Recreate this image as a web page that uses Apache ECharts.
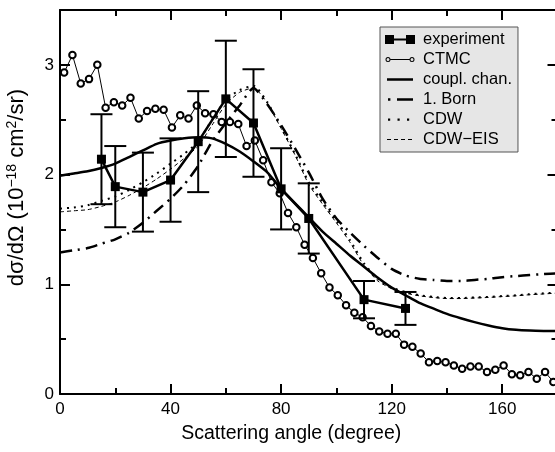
<!DOCTYPE html>
<html><head><meta charset="utf-8">
<script src="https://cdn.jsdelivr.net/npm/echarts@6/dist/echarts.min.js"></script>
<style>html,body{margin:0;padding:0;background:#fff}#c{width:555px;height:452px}</style>
</head><body><div id="c"></div>
<script>
// ---- data ----
const expAngle = [15, 20, 30, 40, 50, 60, 70, 80, 90, 110, 125];
const expValue = [2.14, 1.89, 1.84, 1.95, 2.30, 2.69, 2.47, 1.87, 1.60, 0.86, 0.78];
const expError = [0.41, 0.37, 0.36, 0.38, 0.46, 0.53, 0.49, 0.37, 0.32, 0.17, 0.15];

const ctmcAngle = [1.5, 4.5, 7.5, 10.5, 13.5, 16.5, 19.5, 22.5, 25.5, 28.5,
  31.5, 34.5, 37.5, 40.5, 43.5, 46.5, 49.5, 52.5, 55.5, 58.5,
  61.5, 64.5, 67.5, 70.5, 73.5, 76.5, 79.5, 82.5, 85.5, 88.5,
  91.5, 94.5, 97.5, 100.5, 103.5, 106.5, 109.5, 112.5, 115.5, 118.5,
  121.5, 124.5, 127.5, 130.5, 133.5, 136.5, 139.5, 142.5, 145.5, 148.5,
  151.5, 154.5, 157.5, 160.5, 163.5, 166.5, 169.5, 172.5, 175.5, 178.5];
const ctmcValue = [2.93, 3.09, 2.83, 2.87, 3.00, 2.61, 2.66, 2.63, 2.70, 2.51,
  2.58, 2.60, 2.59, 2.43, 2.54, 2.51, 2.63, 2.56, 2.55, 2.48,
  2.48, 2.46, 2.26, 2.31, 2.13, 1.93, 1.83, 1.65, 1.52, 1.36,
  1.24, 1.10, 0.97, 0.90, 0.81, 0.74, 0.70, 0.62, 0.57, 0.55,
  0.55, 0.45, 0.43, 0.37, 0.29, 0.30, 0.29, 0.26, 0.23, 0.25,
  0.25, 0.20, 0.22, 0.26, 0.18, 0.17, 0.20, 0.14, 0.20, 0.11];

const curveAngle = [0, 5, 10, 15, 20, 25, 30, 35, 40, 45, 50, 55, 60, 65, 70, 75, 80, 85, 90,
  95, 100, 105, 110, 115, 120, 125, 130, 135, 140, 145, 150, 155, 160, 165, 170, 175, 180];
const couplChan = [1.99, 2.01, 2.03, 2.06, 2.10, 2.16, 2.22, 2.28, 2.31, 2.33, 2.34, 2.33, 2.28, 2.21, 2.12, 2.02, 1.87, 1.74, 1.61,
  1.48, 1.37, 1.26, 1.16, 1.06, 0.97, 0.90, 0.83, 0.78, 0.73, 0.69, 0.655, 0.625, 0.60, 0.585, 0.578, 0.575, 0.574];
const born1 = [1.29, 1.31, 1.33, 1.37, 1.41, 1.47, 1.56, 1.67, 1.78, 1.91, 2.08, 2.30, 2.47, 2.63, 2.79, 2.64, 2.45, 2.24, 2.02,
  1.78, 1.60, 1.47, 1.35, 1.24, 1.14, 1.08, 1.05, 1.04, 1.03, 1.03, 1.04, 1.05, 1.065, 1.075, 1.085, 1.093, 1.10];
const cdw = [1.69, 1.70, 1.72, 1.76, 1.80, 1.86, 1.93, 2.01, 2.10, 2.19, 2.30, 2.50, 2.68, 2.77, 2.81, 2.66, 2.43, 2.19, 1.93,
  1.75, 1.58, 1.40, 1.19, 1.05, 0.97, 0.93, 0.90, 0.885, 0.875, 0.875, 0.88, 0.885, 0.893, 0.90, 0.91, 0.918, 0.925];
const cdwEis = [1.66, 1.67, 1.68, 1.71, 1.75, 1.81, 1.88, 1.96, 2.05, 2.15, 2.26, 2.45, 2.64, 2.75, 2.79, 2.65, 2.42, 2.18, 1.91,
  1.73, 1.56, 1.38, 1.17, 1.03, 0.96, 0.92, 0.895, 0.88, 0.87, 0.87, 0.875, 0.88, 0.888, 0.895, 0.905, 0.912, 0.92];

const seriesNames = ['experiment', 'CTMC', 'coupl. chan.', '1. Born', 'CDW', 'CDW\u2212EIS'];
const xTitle = 'Scattering angle (degree)';

// ---- chart ----
const FONT = '"Liberation Sans", Arial, Helvetica, sans-serif';
const zip = (xs, ys) => xs.map((x, i) => [x, ys[i]]);
const black = '#000';

function xAx(pos, interval, len, major) {
  return {
    type: 'value', min: 0, max: 180, interval: interval, position: pos,
    axisLine: { show: major, onZero: false, lineStyle: { color: black, width: 2 } },
    axisTick: { show: true, inside: true, length: len, lineStyle: { color: black, width: 2 } },
    axisLabel: { show: false },
    splitLine: { show: false }
  };
}
function yAx(pos, interval, len, major) {
  return {
    type: 'value', min: 0, max: 3.5, interval: interval, position: pos,
    axisLine: { show: major, onZero: false, lineStyle: { color: black, width: 2 } },
    axisTick: { show: true, inside: true, length: len, lineStyle: { color: black, width: 2 } },
    axisLabel: { show: false },
    splitLine: { show: false }
  };
}

const xBottom = xAx('bottom', 40, 10, true);
xBottom.axisLabel = { show: true, fontSize: 17, color: black, fontFamily: FONT, margin: 7, showMaxLabel: false };
xBottom.name = xTitle;
xBottom.nameLocation = 'middle';
xBottom.nameGap = 30;
xBottom.nameTextStyle = { fontSize: 19.5, color: black, fontFamily: FONT, padding: [0, 35, 0, 0] };

const yLeft = yAx('left', 1, 10, true);
yLeft.axisLabel = { show: true, fontSize: 17, color: black, fontFamily: FONT, margin: 6, showMaxLabel: false };
yLeft.name = 'd\u03c3/d\u03a9 (10{sup|\u221218} cm{sup|2}/sr)';
yLeft.nameLocation = 'middle';
yLeft.nameRotate = 90;
yLeft.nameGap = 31;
yLeft.nameTextStyle = {
  fontSize: 22, color: black, fontFamily: FONT, padding: [0, 0, 0, 29],
  rich: { sup: { fontSize: 14, color: black, fontFamily: FONT, padding: [0, 0, 10, 0] } }
};

// legend glyphs (30 x 9 box; tiny corner squares fix the box)
const BOX = 'M0,0h0.01v0.01h-0.01zM29.99,8.99h0.01v0.01h-0.01z';
const legendIcons = [
  'path://M0,0h9v9h-9zM9,3.5h12v2h-12zM21,0h9v9h-9z',
  'path://' + BOX + 'M0.5,4.5a2.5,2.5 0 1,0 5,0a2.5,2.5 0 1,0 -5,0zM1.5,4.5a1.5,1.5 0 1,1 3,0a1.5,1.5 0 1,1 -3,0zM5.5,4h19v1h-19zM24.5,4.5a2.5,2.5 0 1,0 5,0a2.5,2.5 0 1,0 -5,0zM25.5,4.5a1.5,1.5 0 1,1 3,0a1.5,1.5 0 1,1 -3,0z',
  'path://' + BOX + 'M2,3.2h26v2.6h-26z',
  'path://' + BOX + 'M3,3.3h2.4v2.4h-2.4zM12,3.2h16v2.6h-16z',
  'path://' + BOX + 'M3,3.5h2.2v2.2h-2.2zM12.5,3.5h2.2v2.2h-2.2zM22,3.5h2.2v2.2h-2.2z',
  'path://' + BOX + 'M2,4h4v1h-4zM9,4h4v1h-4zM16,4h4v1h-4zM23,4h4v1h-4z'
];

const smoothLine = (name, ys, style, z) => ({
  name: name, type: 'line', data: zip(curveAngle, ys), symbol: 'none', smooth: 0.2,
  lineStyle: Object.assign({ color: black }, style), itemStyle: { color: black }, z: z, silent: true
});

const option = {
  animation: false,
  backgroundColor: '#fff',
  textStyle: { fontFamily: FONT },
  grid: { left: 60, right: -2.5, top: 10, bottom: 58, containLabel: false, outerBoundsMode: 'none' },
  xAxis: [xBottom, xAx('bottom', 20, 6, false), xAx('top', 40, 10, true), xAx('top', 20, 6, false)],
  yAxis: [yLeft, yAx('left', 0.5, 6, false), yAx('right', 1, 10, true), yAx('right', 0.5, 6, false)],
  legend: {
    orient: 'vertical', left: 380, top: 27,
    backgroundColor: '#e6e6e6', borderColor: '#555', borderWidth: 1,
    padding: [4, 6, 4, 5], itemGap: 3, itemWidth: 30, itemHeight: 12,
    itemStyle: { color: black, borderWidth: 0 },
    textStyle: { fontSize: 16.5, color: black, fontFamily: FONT, padding: [0, 0, 0, 3] },
    selectedMode: false,
    data: seriesNames.map((n, i) => ({ name: n, icon: legendIcons[i] }))
  },
  series: [
    {
      name: seriesNames[1], type: 'line', data: zip(ctmcAngle, ctmcValue),
      symbol: 'emptyCircle', symbolSize: 6.5, showAllSymbol: true,
      lineStyle: { color: black, width: 1 }, itemStyle: { color: black, borderWidth: 1 }, z: 3, silent: true
    },
    smoothLine(seriesNames[2], couplChan, { width: 2.5 }, 4),
    smoothLine(seriesNames[3], born1, { width: 2.5, type: [12, 6, 2, 6] }, 4),
    smoothLine(seriesNames[4], cdw, { width: 2, type: [2, 5] }, 4),
    smoothLine(seriesNames[5], cdwEis, { width: 1, type: [4, 3] }, 4),
    {
      name: 'errors', type: 'custom', z: 5, silent: true,
      data: expAngle.map((a, i) => [a, expValue[i] - expError[i], expValue[i] + expError[i]]),
      encode: { x: 0, y: [1, 2] },
      renderItem: function (params, api) {
        const x = api.value(0);
        const lo = api.coord([x, api.value(1)]);
        const hi = api.coord([x, api.value(2)]);
        const hw = 11;
        const st = { stroke: black, lineWidth: 2 };
        return {
          type: 'group', children: [
            { type: 'line', shape: { x1: lo[0], y1: lo[1], x2: hi[0], y2: hi[1] }, style: st },
            { type: 'line', shape: { x1: lo[0] - hw, y1: lo[1], x2: lo[0] + hw, y2: lo[1] }, style: st },
            { type: 'line', shape: { x1: hi[0] - hw, y1: hi[1], x2: hi[0] + hw, y2: hi[1] }, style: st }
          ]
        };
      }
    },
    {
      name: seriesNames[0], type: 'line', data: zip(expAngle, expValue),
      symbol: 'rect', symbolSize: 9,
      lineStyle: { color: black, width: 2.5 }, itemStyle: { color: black }, z: 6, silent: true
    }
  ]
};

const chart = echarts.init(document.getElementById('c'), null, { renderer: 'canvas' });
chart.setOption(option);
</script>
</body></html>
